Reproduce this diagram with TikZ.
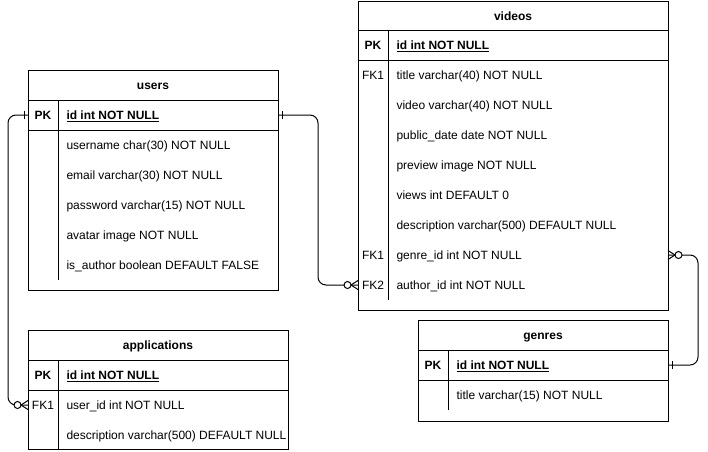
\documentclass[tikz,border=0pt]{standalone}
\usepackage{fontspec}
\setmainfont{Liberation Sans}
\usetikzlibrary{calc}
\begin{document}
\begin{tikzpicture}[x=1pt,y=-1pt,line width=1pt,
  tbl/.style={draw,anchor=north west,inner sep=0pt,outer sep=0pt},
  txt/.style={inner sep=0pt,text height=9pt,text depth=0pt},
  title/.style={txt,font=\fontsize{12}{14}\selectfont\bfseries},
  key/.style={txt,font=\fontsize{12}{14}\selectfont},
  pkey/.style={txt,font=\fontsize{12}{14}\selectfont\bfseries},
  field/.style={txt,font=\fontsize{12}{14}\selectfont,anchor=west},
  pfield/.style={txt,font=\fontsize{12}{14}\selectfont\bfseries,anchor=west},
  conn/.style={rounded corners=8pt},
  zcirc/.style={draw,fill=white,line width=1pt}]
\useasboundingbox (0,0) rectangle (708,451);

% ---------- users ----------
\node[tbl,minimum width=250pt,minimum height=220pt] (users) at (28,70) {};
\node[title] (usersT) at (153,85) {users};
\draw (28,100) -- (278,100);
\draw (28,130) -- (278,130);
\draw (58,100) -- (58,280);
\node[pkey] (uPKk) at (43,115) {PK};
\node[pfield] (uPK) at (66,115) {\underline{id int NOT NULL}};
\node[field] (uF1) at (66,145) {username char(30) NOT NULL};
\node[field] (uF2) at (66,175) {email varchar(30) NOT NULL};
\node[field] (uF3) at (66,205) {password varchar(15) NOT NULL};
\node[field] (uF4) at (66,235) {avatar image NOT NULL};
\node[field] (uF5) at (66,265) {is\_author boolean DEFAULT FALSE};

% ---------- videos ----------
\node[tbl,minimum width=310pt,minimum height=309pt] (videos) at (358,1) {};
\node[title] (videosT) at (513,15.5) {videos};
\draw (358,30) -- (668,30);
\draw (358,60) -- (668,60);
\draw (388,30) -- (388,300);
\node[pkey] (vPKk) at (373,45) {PK};
\node[pfield] (vPK) at (396,45) {\underline{id int NOT NULL}};
\node[key] (vK1) at (373,75) {FK1};
\node[field] (vF1) at (396,75) {title varchar(40) NOT NULL};
\node[field] (vF2) at (396,105) {video varchar(40) NOT NULL};
\node[field] (vF3) at (396,135) {public\_date date NOT NULL};
\node[field] (vF4) at (396,165) {preview image NOT NULL};
\node[field] (vF5) at (396,195) {views int DEFAULT 0};
\node[field] (vF6) at (396,225) {description varchar(500) DEFAULT NULL};
\node[key] (vK7) at (373,255) {FK1};
\node[field] (vF7) at (396,255) {genre\_id int NOT NULL};
\node[key] (vK8) at (373,285) {FK2};
\node[field] (vF8) at (396,285) {author\_id int NOT NULL};

% ---------- applications ----------
\node[tbl,minimum width=260pt,minimum height=119.5pt] (apps) at (28,330) {};
\node[title] (appsT) at (158,345) {applications};
\draw (28,360) -- (288,360);
\draw (28,390) -- (288,390);
\draw (58,360) -- (58,449.5);
\node[pkey] (aPKk) at (43,375) {PK};
\node[pfield] (aPK) at (66,375) {\underline{id int NOT NULL}};
\node[key] (aK1) at (43,405) {FK1};
\node[field] (aF1) at (66,405) {user\_id int NOT NULL};
\node[field] (aF2) at (66,435) {description varchar(500) DEFAULT NULL};

% ---------- genres ----------
\node[tbl,minimum width=250pt,minimum height=101pt] (genres) at (418,320) {};
\node[title] (genresT) at (543,335) {genres};
\draw (418,350) -- (668,350);
\draw (418,380) -- (668,380);
\draw (448,350) -- (448,410);
\node[pkey] (gPKk) at (433,365) {PK};
\node[pfield] (gPK) at (456,365) {\underline{id int NOT NULL}};
\node[field] (gF1) at (456,395) {title varchar(15) NOT NULL};

% ---------- connectors ----------
% users.id -> applications.user_id
\draw[conn] (users.west |- uPK.west) -- ++(-20,0) |- (apps.west |- aF1.west);
\draw ($(users.west |- uPK.west)+(-4,-4)$) -- ++(0,8);
\draw ($(apps.west |- aF1.west)+(-7,0)$) -- ($(apps.west |- aF1.west)+(0,-4.5)$);
\draw ($(apps.west |- aF1.west)+(-7,0)$) -- ($(apps.west |- aF1.west)+(0,4.5)$);
\draw[zcirc] ($(apps.west |- aF1.west)+(-10.5,0)$) circle[radius=3.5pt];

% users.id -> videos.author_id
\draw[conn] (users.east |- uPK.west) -- ++(40,0) |- (videos.west |- vF8.west);
\draw ($(users.east |- uPK.west)+(4,-4)$) -- ++(0,8);
\draw ($(videos.west |- vF8.west)+(-7,0)$) -- ($(videos.west |- vF8.west)+(0,-4.5)$);
\draw ($(videos.west |- vF8.west)+(-7,0)$) -- ($(videos.west |- vF8.west)+(0,4.5)$);
\draw[zcirc] ($(videos.west |- vF8.west)+(-10.5,0)$) circle[radius=3.5pt];

% genres.id -> videos.genre_id
\draw[conn] (videos.east |- vF7.west) -- ++(30,0) |- (genres.east |- gPK.west);
\draw ($(genres.east |- gPK.west)+(4,-4)$) -- ++(0,8);
\draw ($(videos.east |- vF7.west)+(7,0)$) -- ($(videos.east |- vF7.west)+(0,-4.5)$);
\draw ($(videos.east |- vF7.west)+(7,0)$) -- ($(videos.east |- vF7.west)+(0,4.5)$);
\draw[zcirc] ($(videos.east |- vF7.west)+(10.5,0)$) circle[radius=3.5pt];
\end{tikzpicture}
\end{document}
